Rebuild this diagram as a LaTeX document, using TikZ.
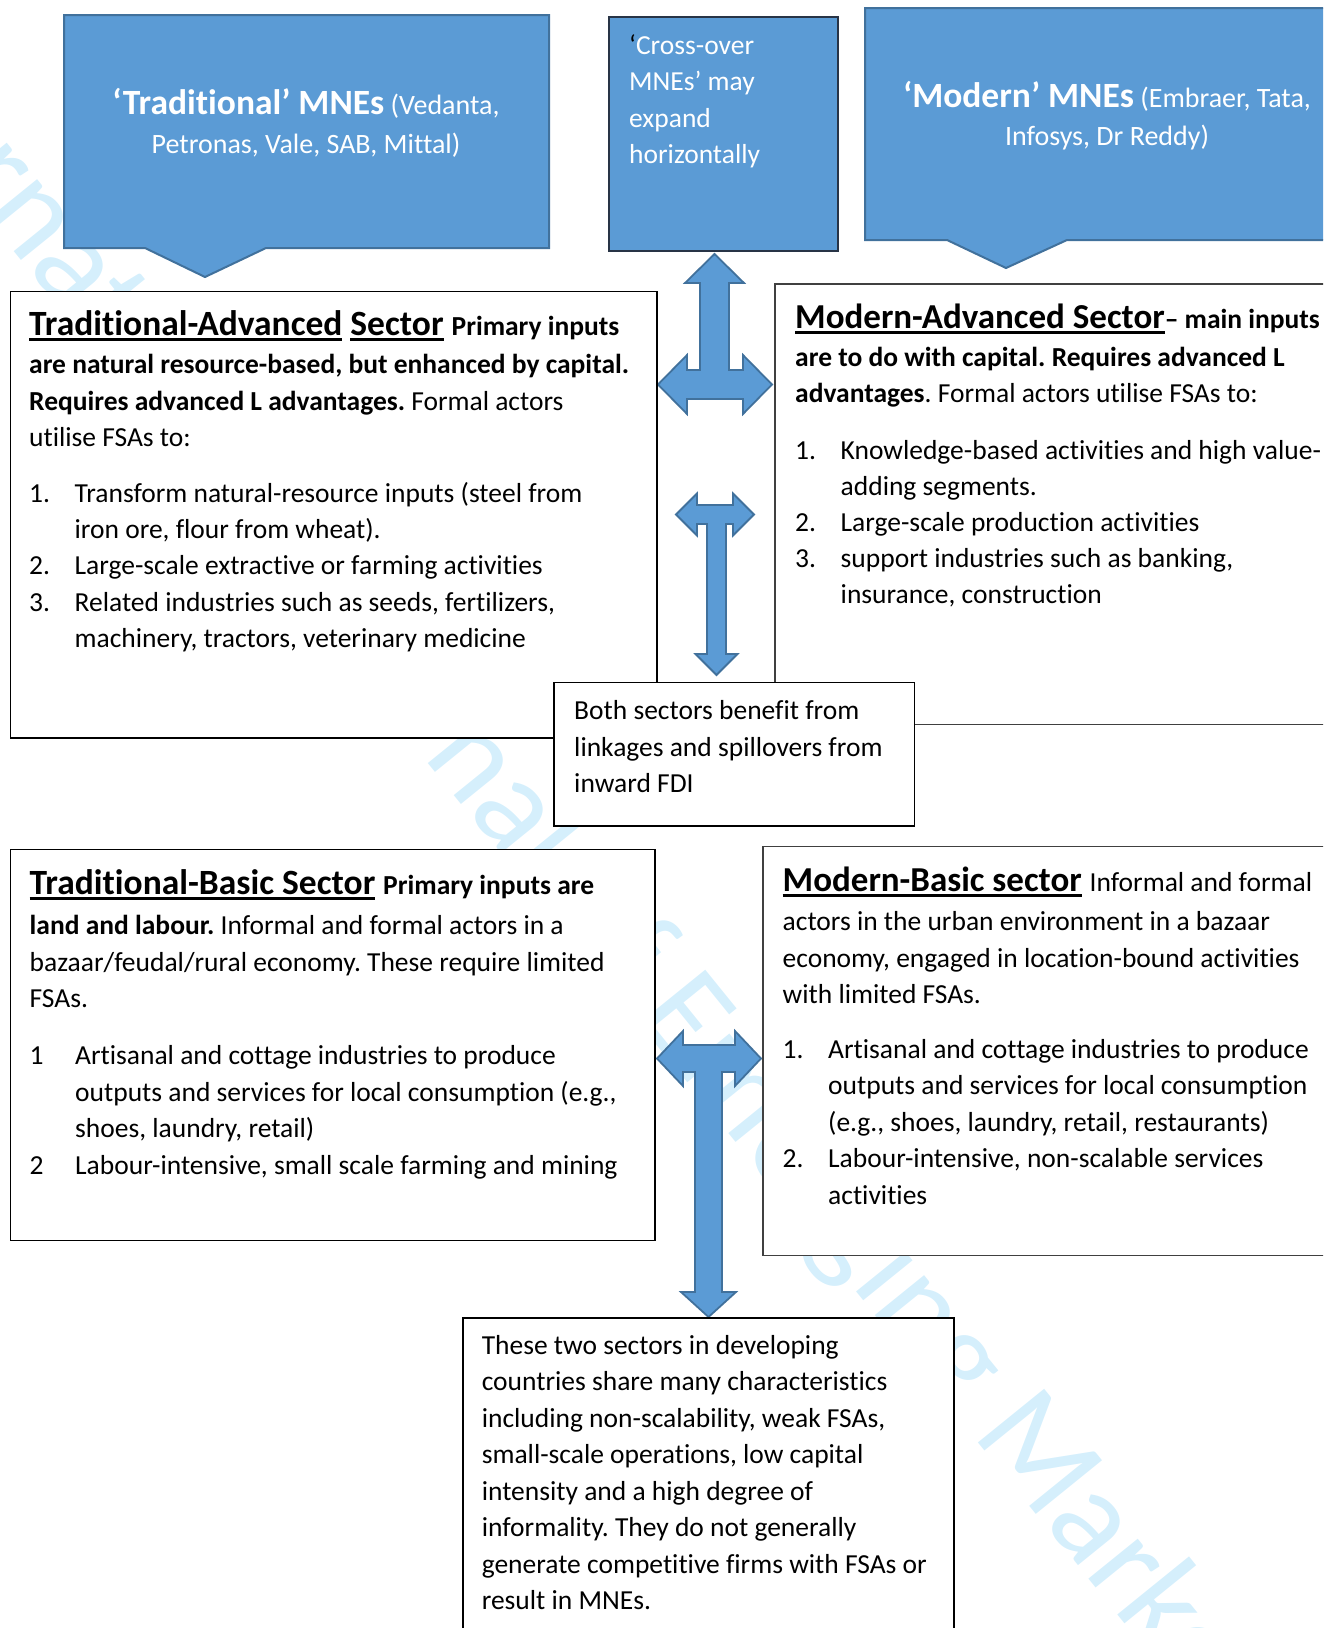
\documentclass[tikz,border=0pt]{standalone}
\usepackage{fontspec}
\setmainfont{Carlito}[Ligatures=NoCommon]
\definecolor{bfill}{RGB}{91,155,213}
\definecolor{bline}{RGB}{65,113,156}
\definecolor{wmark}{RGB}{213,239,252}
\definecolor{xline}{RGB}{40,52,70}
\newcommand\myul[1]{\setbox0=\hbox{#1}\rlap{\rule[-6pt]{\wd0}{2.6pt}}\box0\relax}
\newcommand\itm[1]{\makebox[45.5pt][l]{#1}}
\newcommand\cnt{\hspace*{45.5pt}}
\newcommand\bodyfont[1]{\fontsize{27.5}{#1}\selectfont}
\newcommand\headfont{\fontsize{35}{36}\selectfont\bfseries}
\newcommand\headfontT{\fontsize{35.5}{36}\selectfont\bfseries}
\frenchspacing
\begin{document}
\frenchspacing
\begin{tikzpicture}[x=1pt,y=-1pt,
  callout/.style={fill=bfill,draw=bline,line width=2pt,line join=miter},
  barrow/.style={fill=bfill,draw=bline,line width=1.8pt,line join=miter},
  sbox/.style={draw=black,fill=white,line width=1.5pt,rectangle,inner sep=0pt,outer sep=0pt,anchor=north west},
  mbox/.style={sbox,draw=black!75},
  body/.style={anchor=base west,inner sep=0pt,align=flush left,text width=640pt,font=\bodyfont{36.3}},
  ctext/.style={anchor=base,inner sep=0pt,align=flush center,text width=520pt,text=white},
  wm/.style={rotate=-51,text=wmark,inner sep=0pt,font=\fontsize{133}{140}\selectfont}]
\useasboundingbox (0,0) rectangle (1339,1628);
\begin{scope}
\clip (0,0) rectangle (1323,1628);
% watermark
\node[wm] (wm) at (562,873) {International Journal of Emerging Markets};
% callouts
\path[callout] (64,15) -- (549,15) -- (549,248) -- (266,248) -- (205,277) -- (145,248) -- (64,248) -- cycle;
\node[ctext,font=\fontsize{28}{39}\selectfont] (tmnet) at (306,114)
  {{\fontsize{35.5}{39}\selectfont\bfseries ‘Traditional’ MNEs} (Vedanta,\\Petronas, Vale, SAB, Mittal)};
\path[callout] (865,8) -- (1345,8) -- (1345,240) -- (1067,240) -- (1006,268) -- (947,240) -- (865,240) -- cycle;
\node[ctext,font=\fontsize{28}{38}\selectfont] (mmnet) at (1107,107.5)
  {{\fontsize{35.5}{38}\selectfont\bfseries ‘Modern’ MNEs} (Embraer, Tata,\\Infosys, Dr Reddy)};
\node[sbox,fill=bfill,draw=xline,minimum width=229pt,minimum height=234pt] (cross) at (609,17) {};
\node[body,text=white] (crosst) at (629,54.5)
  {{\color{black}‘}Cross-over\\MNEs’ may\\expand\\horizontally};
% arrow A (up, left, right)
\path[barrow] (714.5,254) -- (744,283) -- (729,283) -- (729,370) -- (743,370) -- (743,355)
  -- (772,384.5) -- (743,414) -- (743,399) -- (687,399) -- (687,414) -- (658,384.5)
  -- (687,355) -- (687,370) -- (700,370) -- (700,283) -- (685,283) -- cycle;
% sector boxes
\node[sbox,minimum width=646.8pt,minimum height=446.3pt] (ta) at (10.4,291.7) {};
\node[body] (tat) at (29,335)
  {{\headfontT\myul{Traditional-Advanced} \myul{Sector} }\textbf{Primary inputs}\\[2.5pt]
   \textbf{are natural resource-based, but enhanced by capital.}\\
   \textbf{Requires advanced L advantages.} Formal actors\\
   utilise FSAs to:\\[19.5pt]
   \itm{1.}Transform natural-resource inputs (steel from\\
   \cnt iron ore, flour from wheat).\\
   \itm{2.}Large-scale extractive or farming activities\\
   \itm{3.}Related industries such as seeds, fertilizers,\\
   \cnt machinery, tractors, veterinary medicine};
\node[mbox,minimum width=570pt,minimum height=440.5pt] (ma) at (775,284) {};
\node[body,font=\bodyfont{36}] (mat) at (795,328)
  {{\headfont\myul{Modern-Advanced Sector}}\textbf{– main inputs}\\[2pt]
   \textbf{are to do with capital. Requires advanced L}\\
   \textbf{advantages}. Formal actors utilise FSAs to:\\[21pt]
   \itm{1.}Knowledge-based activities and high value-\\
   \cnt adding segments.\\
   \itm{2.}Large-scale production activities\\
   \itm{3.}support industries such as banking,\\
   \cnt insurance, construction};
% arrow B (left, right, down)
\path[barrow] (676,514.5) -- (697,493.5) -- (697,505) -- (733,505) -- (733,493.5) -- (754,514.5)
  -- (733,535.5) -- (733,524) -- (726,524) -- (726,654) -- (737.5,654) -- (716.5,675)
  -- (695.5,654) -- (707,654) -- (707,524) -- (697,524) -- (697,535.5) -- cycle;
\node[sbox,minimum width=360.5pt,minimum height=143.5pt] (both) at (554,682.5) {};
\node[body,font=\bodyfont{36.5}] (botht) at (574,719.5)
  {Both sectors benefit from\\linkages and spillovers from\\inward FDI};
\node[sbox,minimum width=644.8pt,minimum height=391pt] (tb) at (10.4,849.3) {};
\node[body,font=\bodyfont{36.5}] (tbt) at (29.5,894)
  {{\headfontT\myul{Traditional-Basic Sector} }\textbf{Primary inputs are}\\[4pt]
   \textbf{land and labour.} Informal and formal actors in a\\
   bazaar/feudal/rural economy. These require limited\\
   FSAs.\\[20.5pt]
   \itm{1}Artisanal and cottage industries to produce\\
   \cnt outputs and services for local consumption (e.g.,\\
   \cnt shoes, laundry, retail)\\
   \itm{2}Labour-intensive, small scale farming and mining};
\node[mbox,minimum width=580pt,minimum height=409pt] (mb) at (763,846.5) {};
\node[body,font=\bodyfont{36.5}] (mbt) at (782.5,891)
  {{\headfont\myul{Modern-Basic sector} }Informal and formal\\[3pt]
   actors in the urban environment in a bazaar\\
   economy, engaged in location-bound activities\\
   with limited FSAs.\\[18pt]
   \itm{1.}Artisanal and cottage industries to produce\\
   \cnt outputs and services for local consumption\\
   \cnt (e.g., shoes, laundry, retail, restaurants)\\
   \itm{2.}Labour-intensive, non-scalable services\\
   \cnt activities};
% arrow C (left, right, down)
\path[barrow] (657,1058.5) -- (683,1031) -- (683,1045) -- (735,1045) -- (735,1031) -- (761,1058.5)
  -- (735,1086) -- (735,1072) -- (722,1072) -- (722,1292) -- (736,1292) -- (708.5,1317)
  -- (681,1292) -- (695,1292) -- (695,1072) -- (683,1072) -- (683,1086) -- cycle;
\node[sbox,minimum width=491pt,minimum height=340pt] (bot) at (463,1318) {};
\node[body,font=\bodyfont{36.5}] (bott) at (481.6,1354)
  {These two sectors in developing\\countries share many characteristics\\including non-scalability, weak FSAs,\\small-scale operations, low capital\\intensity and a high degree of\\informality. They do not generally\\generate competitive firms with FSAs or\\result in MNEs.};
\end{scope}
\end{tikzpicture}
\end{document}
